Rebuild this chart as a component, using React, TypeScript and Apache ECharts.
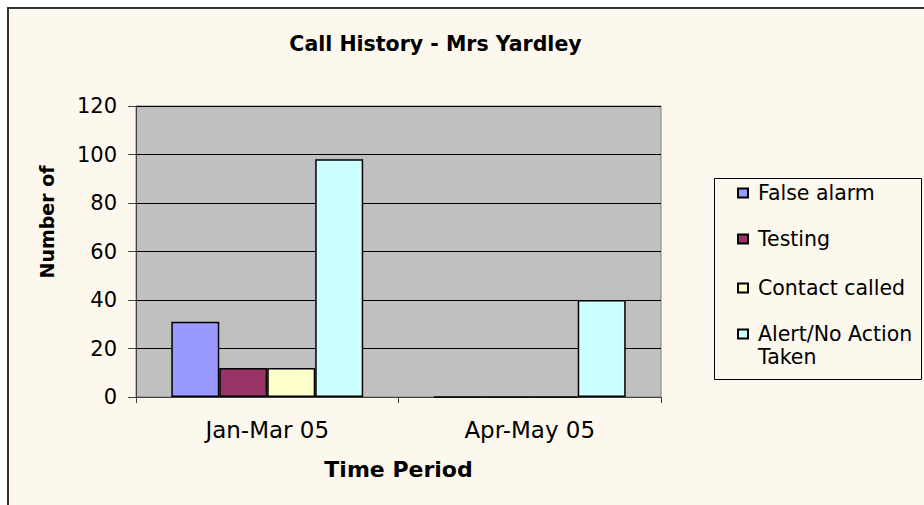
import React, { useEffect, useRef } from "react";
import * as echarts from "echarts";

const categories = ["Jan-Mar 05", "Apr-May 05"];
const seriesNames = ["False alarm", "Testing", "Contact called", "Alert/No Action Taken"];
const falseAlarm = [31, 0];
const testing = [12, 0];
const contactCalled = [12, 0];
const alertNoAction = [98, 40];
const seriesColors = ["#9999FF", "#993366", "#FFFFCC", "#CCFFFF"];
const yTicks = { min: 0, max: 120, interval: 20 };

const FONT = "DejaVu Sans";

export default function App() {
  const ref = useRef<HTMLDivElement>(null);
  useEffect(() => {
    if (!ref.current) return;
    const chart = echarts.init(ref.current, undefined, { renderer: "svg" });
    const values = [falseAlarm, testing, contactCalled, alertNoAction];
    const legendRows = [193, 239, 288, 334];
    const legends = seriesNames.map((name, i) => {
      const isLast = i === seriesNames.length - 1;
      return {
        data: [name],
        orient: "vertical",
        left: 737,
        top: isLast ? legendRows[i] - 34.5 : legendRows[i] - 11.5,
        padding: 0,
        itemWidth: 10,
        itemHeight: 9,
        icon: "rect",
        selectedMode: false,
        formatter: (n: string) => (n === "Alert/No Action Taken" ? " \nAlert/No Action\nTaken" : n),
        textStyle: {
          fontFamily: FONT,
          fontSize: 20.5,
          lineHeight: 23,
          color: "#000",
          padding: [0, 0, 0, 5],
        },
      };
    });
    chart.setOption({
      animation: false,
      backgroundColor: "#ffffff",
      textStyle: { fontFamily: FONT },
      title: {
        text: "Call History - Mrs Yardley",
        left: 435.5,
        top: 33,
        textAlign: "center",
        padding: 0,
        textStyle: { fontFamily: FONT, fontSize: 20.5, fontWeight: "bold", color: "#000" },
      },
      graphic: [
        {
          type: "rect",
          z: -10,
          shape: { x: 8, y: 8, width: 940, height: 520 },
          style: { fill: "#FDF8ED", stroke: "#333333", lineWidth: 2 },
          silent: true,
        },
        {
          type: "rect",
          z: -5,
          shape: { x: 714.5, y: 178.5, width: 207, height: 201 },
          style: { fill: "#FDF8ED", stroke: "#000000", lineWidth: 1 },
          silent: true,
        },
        {
          type: "text",
          x: 47,
          y: 222,
          rotation: Math.PI / 2,
          style: {
            text: "Number of",
            font: `bold 19px "${FONT}"`,
            fill: "#000",
            align: "center",
            verticalAlign: "middle",
          },
        },
      ],
      legend: legends,
      grid: {
        left: 136,
        top: 106,
        width: 525,
        height: 291,
        show: true,
        backgroundColor: "#C0C0C0",
        borderColor: "#808080",
        borderWidth: 1,
        containLabel: false,
      },
      xAxis: {
        type: "category",
        data: categories,
        boundaryGap: true,
        name: "Time Period",
        nameLocation: "middle",
        nameGap: 61,
        nameTextStyle: { fontFamily: FONT, fontSize: 22, fontWeight: "bold", color: "#000" },
        axisLine: { show: true, lineStyle: { color: "#404040", width: 1 } },
        axisTick: { show: true, alignWithLabel: false, length: 6, lineStyle: { color: "#404040" } },
        axisLabel: { fontFamily: FONT, fontSize: 23, color: "#000", margin: 21 },
        splitLine: { show: false },
      },
      yAxis: {
        type: "value",
        min: yTicks.min,
        max: yTicks.max,
        interval: yTicks.interval,
        axisLine: { show: true, lineStyle: { color: "#404040", width: 1 } },
        axisTick: { show: true, inside: false, length: 8, lineStyle: { color: "#404040" } },
        axisLabel: { fontFamily: FONT, fontSize: 21, color: "#000", margin: 19 },
        splitLine: { show: true, lineStyle: { color: "#000000", width: 1 } },
      },
      series: seriesNames.map((name, i) => ({
        name,
        type: "bar",
        data: values[i],
        barGap: "0%",
        barCategoryGap: "26.9%",
        itemStyle: { color: seriesColors[i], borderColor: "#000000", borderWidth: 1.5 },
      })),
    });
    return () => chart.dispose();
  }, []);
  return (
    <div
      ref={ref}
      style={{ position: "fixed", left: 0, top: 0, width: 924, height: 505 }}
    />
  );
}
